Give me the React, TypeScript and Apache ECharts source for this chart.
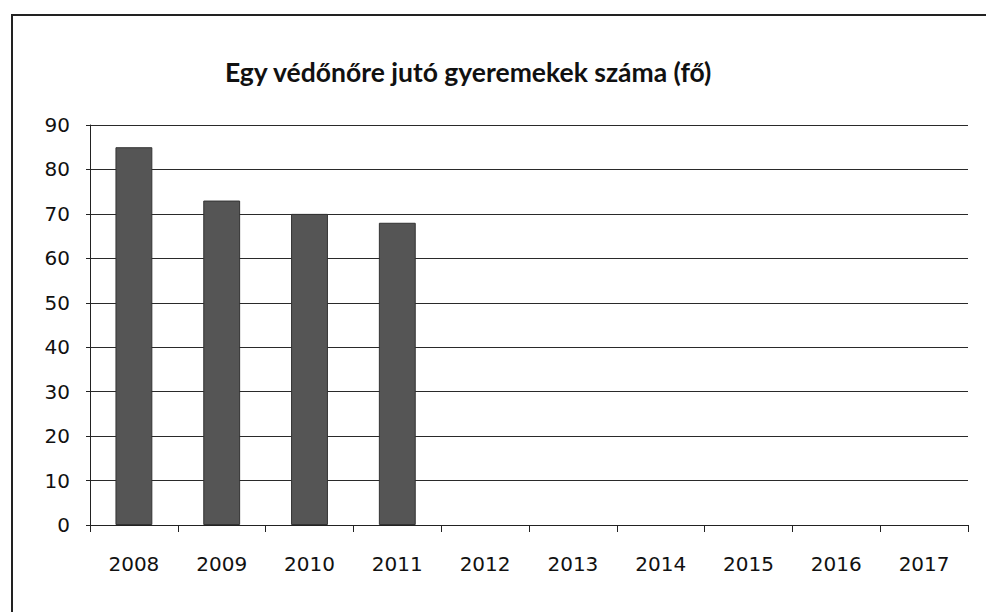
import React, { useEffect, useRef } from "react";
import * as echarts from "echarts";

const titleText = "Egy védőnőre jutó gyeremekek száma (fő)";
const years = ["2008", "2009", "2010", "2011", "2012", "2013", "2014", "2015", "2016", "2017"];
const childrenPerNurse: (number | null)[] = [85, 73, 70, 68, null, null, null, null, null, null];
const yTicks = { min: 0, max: 90, interval: 10 };

export default function App() {
  const ref = useRef<HTMLDivElement>(null);
  useEffect(() => {
    document.body.style.margin = "0";
    const chart = echarts.init(ref.current!, null, { renderer: "svg" });
    chart.setOption({
      animation: false,
      backgroundColor: "#ffffff",
      title: {
        text: titleText,
        left: 220,
        top: 53,
        textStyle: {
          fontFamily: "Lato",
          fontWeight: "bold",
          fontSize: 26.5,
          color: "#111",
        },
      },
      graphic: [
        {
          type: "rect",
          shape: { x: 12, y: 15, width: 1000, height: 700 },
          style: { fill: "none", stroke: "#222", lineWidth: 2 },
          silent: true,
        },
      ],
      grid: { left: 90, right: 18, top: 125, bottom: 87 },
      xAxis: {
        type: "category",
        data: years,
        boundaryGap: true,
        axisLine: { show: true, lineStyle: { color: "#222", width: 1 } },
        axisTick: { show: true, alignWithLabel: false, length: 7, lineStyle: { color: "#222" } },
        axisLabel: {
          fontFamily: "DejaVu Sans",
          fontSize: 20,
          color: "#111",
          margin: 29,
        },
      },
      yAxis: {
        type: "value",
        min: yTicks.min,
        max: yTicks.max,
        interval: yTicks.interval,
        axisLine: { show: true, lineStyle: { color: "#222", width: 1 } },
        axisTick: { show: true, length: 4, lineStyle: { color: "#222" } },
        splitLine: { show: true, lineStyle: { color: "#2a2a2a", width: 1 } },
        axisLabel: {
          fontFamily: "DejaVu Sans",
          fontSize: 20,
          color: "#111",
          margin: 20,
        },
      },
      series: [
        {
          type: "bar",
          data: childrenPerNurse,
          barWidth: "42%",
          itemStyle: { color: "#555555", borderColor: "#333", borderWidth: 1 },
        },
      ],
    });
    return () => chart.dispose();
  }, []);
  return (
    <div
      ref={ref}
      style={{ width: 986, height: 612, position: "absolute", left: 0, top: 0 }}
    />
  );
}
